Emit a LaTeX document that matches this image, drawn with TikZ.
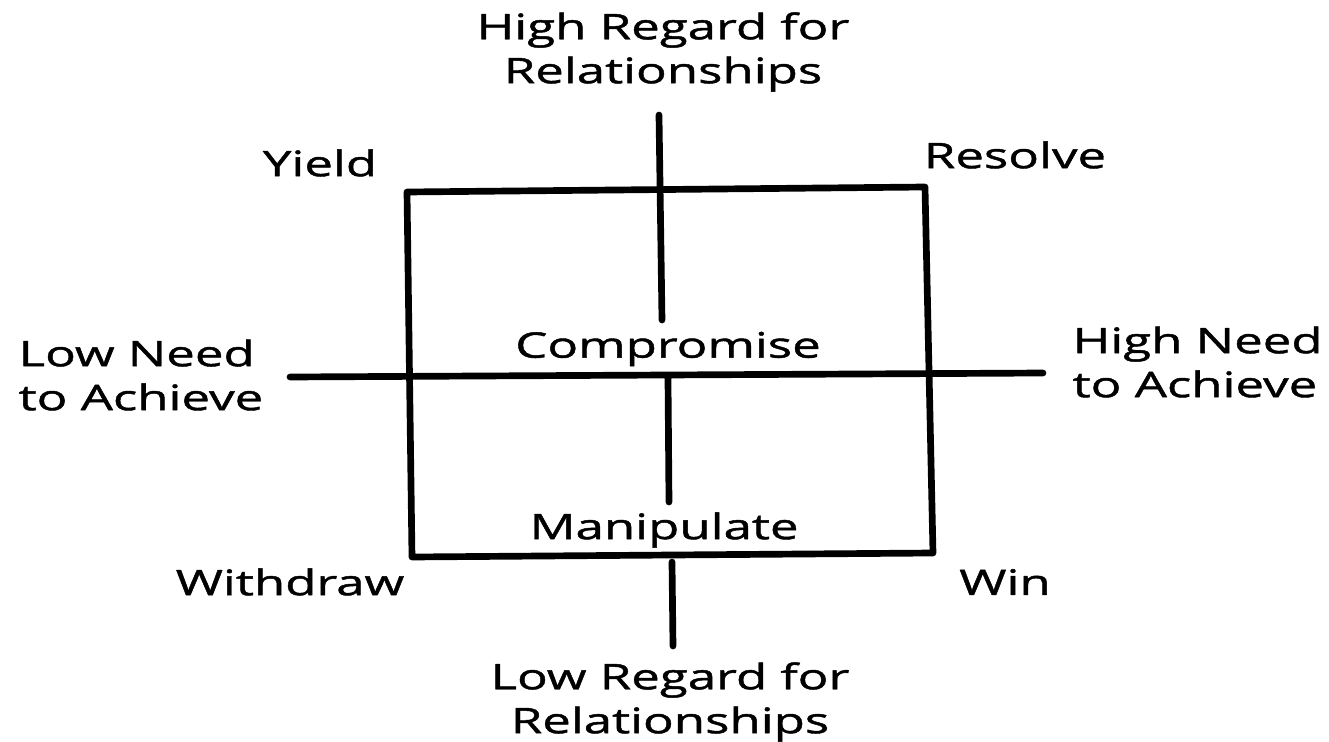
\documentclass[tikz,border=0pt]{standalone}
\usepackage{fontspec}
\setmainfont{Open Sans}[FakeStretch=1.45, FakeBold=1.3]
\newcommand\labelfont{\fontsize{10}{12.5}\selectfont\lineskiplimit=-20pt\relax}
\tikzset{
  lbl/.style={align=center, inner sep=0pt},
  axis/.style={line width=1.9pt}
}
\begin{document}
\begin{tikzpicture}[x=0.01cm, y=-0.01cm, font=\labelfont, line cap=round, line join=round]
	\useasboundingbox (0,0) rectangle (1329,742);
	% box corners
	\coordinate (tl) at (407,192);
	\coordinate (tr) at (925,187);
	\coordinate (br) at (933,553);
	\coordinate (bl) at (412,557);
	\draw[axis] (tl) -- (tr) -- (br) -- (bl) -- cycle;
	% axes
	\coordinate (up-a) at (659,115);
	\coordinate (up-b) at (662,320);
	\coordinate (mid-a) at (668,378);
	\coordinate (mid-b) at (669,502);
	\coordinate (dn-a) at (672,562);
	\coordinate (dn-b) at (673,646);
	\coordinate (lf) at (290,377);
	\coordinate (rt) at (1043,373);
	\draw[axis] (up-a) -- (up-b) (mid-a) -- (mid-b) (dn-a) -- (dn-b) (lf) -- (rt);
	% labels
	\node[lbl] (highreg) at (663,52) {High Regard for\\Relationships};
	\node[lbl] (lowreg) at (670,702) {Low Regard for\\Relationships};
	\node[lbl, align=left, anchor=west] (lowneed) at (18,375) {Low Need\\to Achieve};
	\node[lbl, align=left, anchor=west] (highneed) at (1072,362) {High Need\\to Achieve};
	\node[lbl] (yield) at (320,163) {Yield};
	\node[lbl] (resolve) at (1015,155) {Resolve};
	\node[lbl] (compromise) at (668,349) {Compromise};
	\node[lbl] (manipulate) at (664,530) {Manipulate};
	\node[lbl] (withdraw) at (290,582) {Withdraw};
	\node[lbl] (win) at (1005,582) {Win};
\end{tikzpicture}
\end{document}
